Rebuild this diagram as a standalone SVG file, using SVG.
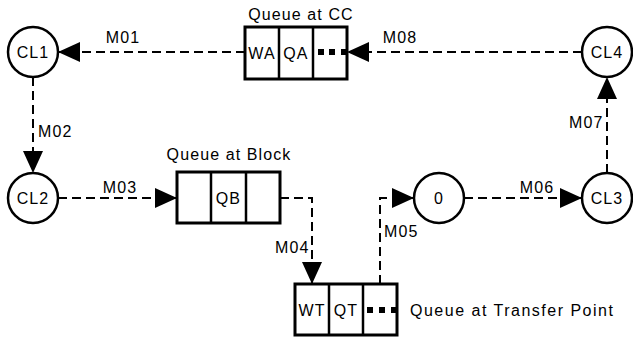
<svg xmlns="http://www.w3.org/2000/svg" width="633" height="340" viewBox="0 0 633 340">
<defs>
<style>
text{font-family:"Liberation Sans",Arial,sans-serif;font-size:16px;fill:#000;letter-spacing:1.1px}
.c{fill:#fff;stroke:#000;stroke-width:2.5}
.b{fill:#fff;stroke:#000;stroke-width:3}
.d{stroke:#000;stroke-width:2.5}
.m{text-anchor:middle}
.e{fill:none;stroke:#000;stroke-width:2;stroke-dasharray:9 5}
</style>
<marker id="ah" markerUnits="userSpaceOnUse" markerWidth="22" markerHeight="20" refX="22" refY="10" orient="auto" viewBox="0 0 22 20">
<path d="M0,0 L22,10 L0,20 Z" fill="#000" stroke="none"/>
</marker>
</defs>
<rect width="633" height="340" fill="#fff"/>
<g id="connectors">
<line class="e" x1="245" y1="52" x2="58" y2="52" marker-end="url(#ah)"/>
<line class="e" x1="582" y1="52" x2="347" y2="52" marker-end="url(#ah)"/>
<line class="e" x1="33" y1="77" x2="33" y2="173" marker-end="url(#ah)"/>
<line class="e" x1="607" y1="173" x2="607" y2="77" marker-end="url(#ah)"/>
<line class="e" x1="58" y1="198" x2="177" y2="198" marker-end="url(#ah)"/>
<path class="e" d="M280,198 H312 V284" marker-end="url(#ah)"/>
<path class="e" d="M380,284 V198 H414" marker-end="url(#ah)"/>
<line class="e" x1="464" y1="198" x2="582" y2="198" marker-end="url(#ah)"/>
<text class="m" x="123" y="43">M01</text>
<text class="m" x="400" y="43">M08</text>
<text x="38" y="137">M02</text>
<text x="569" y="128">M07</text>
<text class="m" x="120" y="193">M03</text>
<text class="m" x="537" y="193">M06</text>
<text x="275" y="253">M04</text>
<text x="384" y="237">M05</text>
</g>
<g id="CL1"><circle class="c" cx="33" cy="52" r="25"/><text class="m" x="33" y="58">CL1</text></g>
<g id="CL2"><circle class="c" cx="33" cy="198" r="25"/><text class="m" x="33" y="204">CL2</text></g>
<g id="CL3"><circle class="c" cx="607" cy="198" r="25"/><text class="m" x="607" y="204">CL3</text></g>
<g id="CL4"><circle class="c" cx="607" cy="52" r="25"/><text class="m" x="607" y="58">CL4</text></g>
<g id="node0"><circle class="c" cx="439" cy="198" r="25"/><text class="m" x="439" y="204">0</text></g>
<g id="queueCC">
<text class="m" x="301" y="20">Queue at CC</text>
<rect class="b" x="245" y="27" width="102" height="52"/>
<line class="d" x1="279" y1="27" x2="279" y2="79"/>
<line class="d" x1="313" y1="27" x2="313" y2="79"/>
<text class="m" x="262" y="59">WA</text>
<text class="m" x="296" y="59">QA</text>
<rect x="318" y="49" width="6" height="6"/>
<rect x="329" y="49" width="6" height="6"/>
<rect x="341" y="49" width="6" height="6"/>
</g>
<g id="queueBlock">
<text class="m" x="229" y="160">Queue at Block</text>
<rect class="b" x="177" y="172" width="103" height="51"/>
<line class="d" x1="211" y1="172" x2="211" y2="223"/>
<line class="d" x1="246" y1="172" x2="246" y2="223"/>
<text class="m" x="228.5" y="204">QB</text>
</g>
<g id="queueTransfer">
<rect class="b" x="295" y="284" width="102" height="51"/>
<line class="d" x1="329" y1="284" x2="329" y2="335"/>
<line class="d" x1="363" y1="284" x2="363" y2="335"/>
<text class="m" x="312" y="316">WT</text>
<text class="m" x="346" y="316">QT</text>
<rect x="367" y="307" width="6" height="6"/>
<rect x="379" y="307" width="6" height="6"/>
<rect x="391" y="307" width="6" height="6"/>
<text x="410" y="316" style="letter-spacing:1.5px">Queue at Transfer Point</text>
</g>
</svg>
